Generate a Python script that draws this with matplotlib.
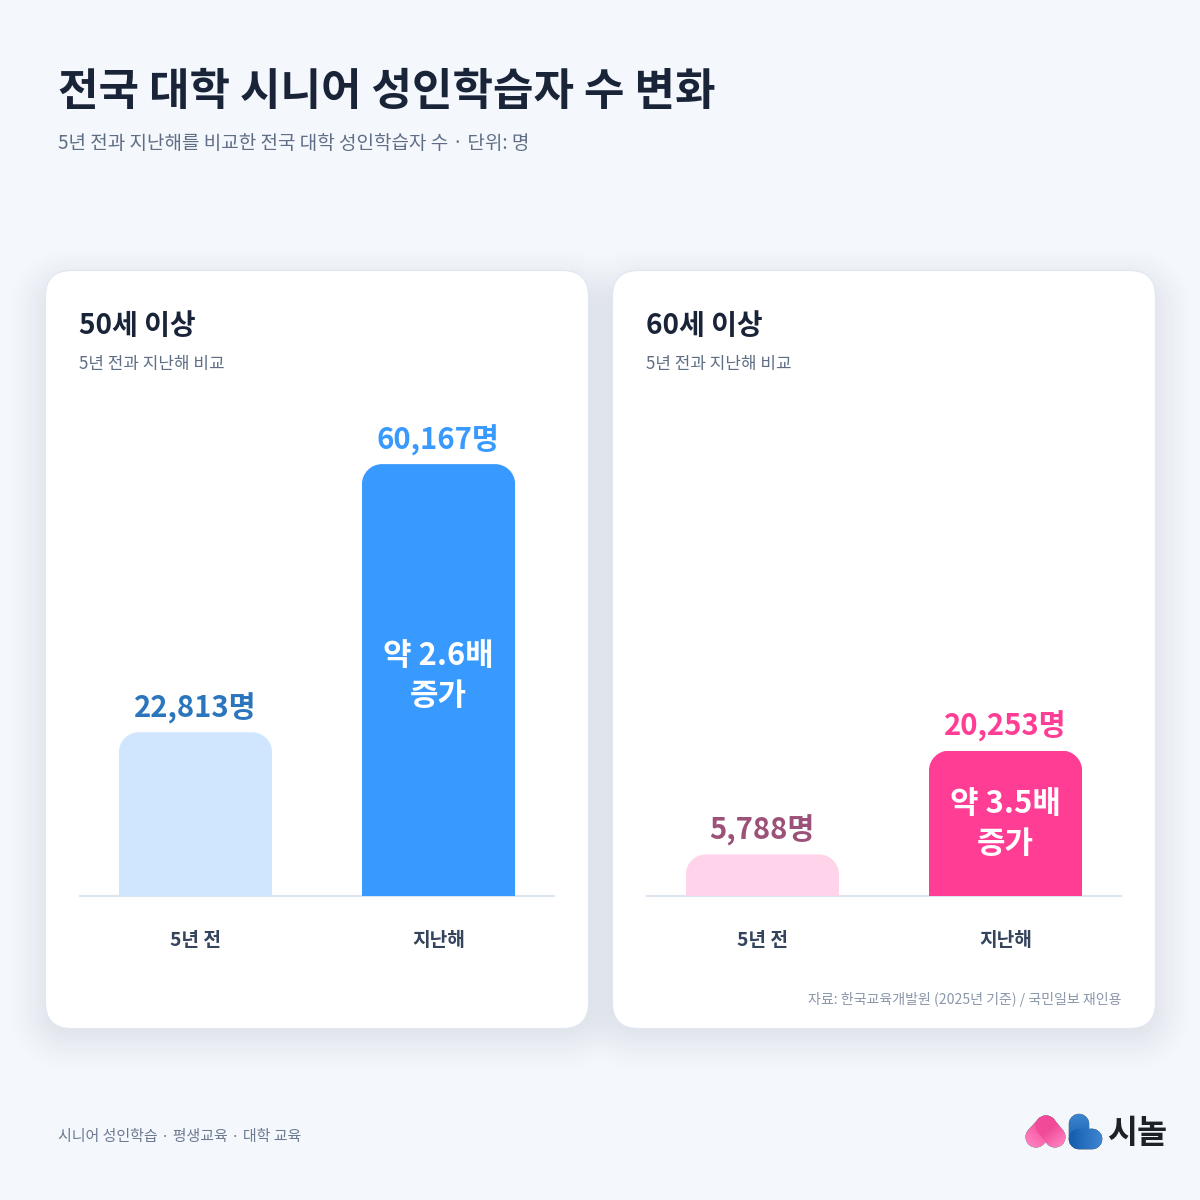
import numpy as np
import matplotlib
matplotlib.use("Agg")
import matplotlib.pyplot as plt
from matplotlib.patches import FancyBboxPatch
from matplotlib.path import Path
from matplotlib.transforms import Affine2D

plt.rcParams['font.family'] = ['Noto Sans CJK KR', 'DejaVu Sans']

# ---- data ----
categories = ['5년 전', '지난해']
values_50 = [22813, 60167]
values_60 = [5788, 20253]
value_labels_50 = ['22,813명', '60,167명']
value_labels_60 = ['5,788명', '20,253명']
note_50 = '약 2.6배\n증가'
note_60 = '약 3.5배\n증가'
bar_colors_50 = ['#D0E6FF', '#3899FF']
bar_colors_60 = ['#FFD3E9', '#FF3D94']
label_colors_50 = ['#2B75BD', '#3899FF']
label_colors_60 = ['#9C5278', '#FF3D94']

BG = '#F4F7FC'
INK = '#1A2438'
MUTED = '#5F6E85'
fig = plt.figure(figsize=(12, 12), dpi=100, facecolor=BG)

# pixel-space background layer
bg = fig.add_axes([0, 0, 1, 1], zorder=0)
bg.set_xlim(0, 1200); bg.set_ylim(1200, 0); bg.axis('off')

yy, xx = np.mgrid[0:1200, 0:1200] + 0.5

def rr_sdf(x0, y0, x1, y1, r):
    cx, cy = (x0 + x1) / 2, (y0 + y1) / 2
    qx = np.abs(xx - cx) - (x1 - x0) / 2 + r
    qy = np.abs(yy - cy) - (y1 - y0) / 2 + r
    return np.hypot(np.maximum(qx, 0), np.maximum(qy, 0)) + np.minimum(np.maximum(qx, qy), 0) - r

cards = [(45.5, 270.5, 588.5, 1028.5), (612.5, 270.5, 1155.5, 1028.5)]
alpha = np.zeros_like(xx)
for (x0, y0, x1, y1) in cards:
    d = rr_sdf(x0 - 4, y0 + 10, x1 + 4, y1 + 10, 28)
    t = np.clip((d + 40) / 80, 0, 1)
    a = 1 - t * t * (3 - 2 * t)
    alpha = 1 - (1 - alpha) * (1 - a * 0.14)
shadow = np.zeros((1200, 1200, 4))
shadow[..., 0] = 0.15; shadow[..., 1] = 0.20; shadow[..., 2] = 0.30
shadow[..., 3] = alpha
bg.imshow(shadow, extent=(0, 1200, 1200, 0), interpolation='nearest', aspect='auto', zorder=1)
bg.set_xlim(0, 1200); bg.set_ylim(1200, 0)

for (x0, y0, x1, y1) in cards:
    r = 26
    bg.add_patch(FancyBboxPatch((x0 + r, y0 + r), x1 - x0 - 2 * r, y1 - y0 - 2 * r,
                                boxstyle=f'round,pad={r},rounding_size={r}',
                                fc='white', ec='#E0E7F3', lw=0.8, zorder=2))

# logo, rendered from distance fields
def capsule(ax_, ay_, bx_, by_, r):
    px, py = xx - ax_, yy - ay_
    dx, dy = bx_ - ax_, by_ - ay_
    h = np.clip((px * dx + py * dy) / (dx * dx + dy * dy), 0, 1)
    return np.hypot(px - h * dx, py - h * dy) - r

def paint(img, d, c0, c1, vec, org, span):
    t = np.clip(((xx - org[0]) * vec[0] + (yy - org[1]) * vec[1]) / span, 0, 1)[..., None]
    col = np.array(matplotlib.colors.to_rgb(c0)) * (1 - t) + np.array(matplotlib.colors.to_rgb(c1)) * t
    a = np.clip(0.5 - d, 0, 1)[..., None]
    img[..., :3] = img[..., :3] * (1 - a) + col * a
    img[..., 3:] = img[..., 3:] * (1 - a) + a

logo = np.zeros((1200, 1200, 4))
paint(logo, capsule(1036, 1137, 1046, 1126, 10.5), '#F04A98', '#FF7CBC', (-0.67, 0.74), (1046, 1124), 24)
paint(logo, capsule(1046, 1126, 1055, 1137, 10.5), '#F04A98', '#FF80BF', (0.63, 0.77), (1048, 1130), 20)
dL = np.minimum(capsule(1079, 1124, 1079, 1139, 10.2), capsule(1079, 1139, 1092, 1139, 10.2))
paint(logo, dL, '#3F86CF', '#1660B0', (0, 1), (1072, 1114), 28)
paint(logo, capsule(1079, 1139, 1092, 1139, 10.2), '#1660B0', '#3F86D2', (1, 0), (1072, 1139), 30)
bg.imshow(logo, extent=(0, 1200, 1200, 0), interpolation='nearest', aspect='auto', zorder=3)
bg.set_xlim(0, 1200); bg.set_ylim(1200, 0)
bg.text(1137.5, 1133, '시놀', fontsize=23.5, fontweight='bold', color='#1D2128', ha='center', va='center', zorder=4)

# headings and footers
bg.text(58, 92, '전국 대학 시니어 성인학습자 수 변화', fontsize=31.7, fontweight='bold', color=INK, va='center', zorder=4)
bg.text(58, 143.5, '5년 전과 지난해를 비교한 전국 대학 성인학습자 수 · 단위: 명', fontsize=13.7, color=MUTED, va='center', zorder=4)
for x, t in ((79, '50세 이상'), (646, '60세 이상')):
    bg.text(x, 326, t, fontsize=20.2, fontweight='bold', color=INK, va='center', zorder=4)
    bg.text(x, 364, '5년 전과 지난해 비교', fontsize=12.2, color=MUTED, va='center', zorder=4)
bg.text(1121, 999.5, '자료: 한국교육개발원 (2025년 기준) / 국민일보 재인용', fontsize=10.1, color='#8A97AA', ha='right', va='center', zorder=4)
bg.text(58, 1137, '시니어 성인학습 · 평생교육 · 대학 교육', fontsize=10.8, color='#6B7A90', va='center', zorder=4)

YMAX = 69100
PLOT_TOP, PLOT_BASE = 400, 896

def panel(left, values, bar_colors, labels, label_colors, note, note_dy):
    ax = fig.add_axes([left / 1200, 1 - PLOT_BASE / 1200, 476 / 1200, (PLOT_BASE - PLOT_TOP) / 1200],
                      zorder=1, facecolor='none')
    ax.set_xlim(-0.479, 1.479)
    ax.set_ylim(0, YMAX)
    ax.set_yticks([])
    ax.set_xticks(range(len(categories)), categories)
    ax.tick_params(axis='x', length=0, pad=25.3, labelsize=13.8, labelcolor='#34445C')
    for l in ax.get_xticklabels():
        l.set_fontweight('bold')
    for s in ('top', 'left', 'right'):
        ax.spines[s].set_visible(False)
    ax.spines['bottom'].set_color('#DDE5EF')
    ax.spines['bottom'].set_linewidth(1.5)
    ax.spines['bottom'].set_capstyle('butt')
    ax.spines['bottom'].set_zorder(1)
    bars = ax.bar(range(len(values)), values, width=0.63, color=bar_colors, zorder=2)
    # round the top corners: clip each bar in pixel space
    to_px = ax.transData + fig.dpi_scale_trans.inverted() + Affine2D().scale(100)
    for b in bars:
        (x0, y0), (x1, y1) = to_px.transform([(b.get_x(), 0), (b.get_x() + b.get_width(), b.get_height())])
        r = 20
        k = 0.5523 * r
        verts = [(x0, y0 - 5), (x0, y1 - r), (x0, y1 - r + k), (x0 + r - k, y1), (x0 + r, y1),
                 (x1 - r, y1), (x1 - r + k, y1), (x1, y1 - r + k), (x1, y1 - r), (x1, y0 - 5), (x0, y0 - 5)]
        codes = [Path.MOVETO, Path.LINETO, Path.CURVE4, Path.CURVE4, Path.CURVE4,
                 Path.LINETO, Path.CURVE4, Path.CURVE4, Path.CURVE4, Path.LINETO, Path.CLOSEPOLY]
        b.set_clip_path(Path(verts, codes), Affine2D().scale(fig.dpi / 100))
    for i, v in enumerate(values):
        ax.annotate(labels[i], (i, v), xytext=(-0.5, 24), textcoords='offset pixels',
                    ha='center', va='center', fontsize=21.1, fontweight='bold', color=label_colors[i], zorder=4)
    ax.annotate(note, (1, values[1] / 2), xytext=(0, note_dy), textcoords='offset pixels',
                ha='center', va='center', fontsize=22.3, fontweight='bold', color='white',
                linespacing=1.32, zorder=4)
    return ax

panel(79, values_50, bar_colors_50, value_labels_50, label_colors_50, note_50, 4.5)
panel(646, values_60, bar_colors_60, value_labels_60, label_colors_60, note_60, -1)

fig.savefig('out.png', dpi=100, facecolor=BG)
